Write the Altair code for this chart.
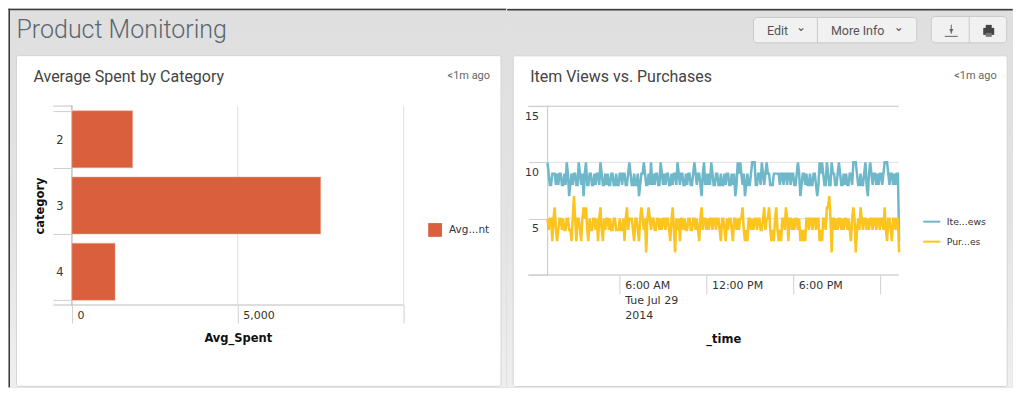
import altair as alt
import pandas as pd

# ---- data ----
categories = ["2", "3", "4"]
avg_spent = [1830, 7500, 1300]
x_ticks_left = [0, 5000, 10000]

y_ticks_right = [0, 5, 10, 15]
time_ticks = ["2014-07-29T06:00:00", "2014-07-29T12:00:00", "2014-07-29T18:00:00", "2014-07-30T00:00:00"]
time_start = "2014-07-29T01:00:00"
time_end = "2014-07-30T01:20:00"

item_views = [
    10, 9, 8, 8, 9, 9, 9, 8, 9, 8, 9, 9, 8, 8, 9, 8, 10, 9, 7, 8,
    9, 8, 9, 9, 8, 8, 10, 9, 8, 9, 7, 9, 10, 8, 8, 9, 9, 8, 8, 9,
    8, 9, 9, 8, 10, 9, 8, 8, 9, 8, 9, 8, 8, 9, 9, 8, 8, 9, 8, 8,
    9, 9, 8, 9, 9, 8, 8, 9, 10, 9, 8, 8, 9, 8, 8, 9, 7, 8, 9, 9,
    10, 9, 8, 8, 9, 8, 10, 8, 9, 8, 9, 9, 8, 8, 10, 9, 8, 9, 8, 9,
    9, 8, 8, 9, 8, 9, 9, 8, 10, 9, 8, 9, 9, 8, 8, 9, 8, 9, 9, 8,
    8, 9, 10, 9, 8, 9, 9, 8, 7, 9, 10, 8, 9, 8, 9, 8, 10, 9, 8, 8,
    9, 9, 8, 8, 9, 8, 8, 9, 8, 9, 9, 8, 8, 9, 8, 9, 7, 8, 10, 9,
    10, 9, 8, 9, 7, 8, 9, 8, 8, 9, 10, 10, 10, 8, 8, 9, 9, 8, 10, 9,
    8, 9, 10, 9, 9, 8, 8, 8, 9, 9, 9, 9, 9, 8, 9, 9, 8, 9, 9, 8,
    9, 9, 8, 9, 9, 8, 8, 9, 10, 9, 7, 8, 9, 9, 8, 9, 8, 8, 9, 8,
    8, 9, 9, 8, 7, 8, 10, 9, 10, 9, 8, 8, 10, 9, 8, 8, 10, 9, 9, 8,
    8, 9, 10, 9, 8, 8, 9, 8, 9, 8, 8, 9, 9, 8, 10, 10, 10, 9, 8, 8,
    9, 8, 8, 9, 10, 8, 7, 9, 10, 9, 8, 9, 9, 8, 9, 8, 9, 9, 8, 9,
    10, 10, 10, 9, 8, 9, 9, 8, 9, 8, 9, 9, 3,
]
purchases = [
    5, 4, 5, 5, 3, 5, 6, 4, 3, 4, 5, 5, 4, 5, 4, 4, 5, 5, 4, 4,
    3, 5, 7, 5, 3, 5, 5, 4, 3, 5, 6, 5, 6, 4, 3, 5, 4, 4, 5, 5,
    4, 5, 3, 5, 6, 4, 3, 5, 4, 5, 5, 4, 5, 4, 4, 5, 5, 4, 4, 4,
    5, 4, 4, 5, 3, 5, 6, 4, 5, 5, 5, 4, 3, 5, 5, 4, 3, 5, 6, 5,
    4, 5, 2, 5, 6, 5, 4, 5, 5, 4, 4, 5, 5, 4, 5, 4, 5, 5, 4, 5,
    5, 4, 3, 5, 6, 4, 2, 5, 4, 5, 3, 5, 5, 4, 5, 4, 4, 5, 5, 4,
    4, 5, 5, 4, 5, 4, 3, 5, 6, 4, 5, 5, 4, 5, 4, 5, 5, 4, 5, 5,
    4, 5, 5, 4, 3, 5, 5, 4, 3, 5, 4, 5, 5, 4, 3, 5, 5, 4, 5, 4,
    5, 5, 6, 4, 3, 4, 3, 5, 5, 4, 5, 4, 5, 5, 4, 5, 5, 4, 4, 5,
    6, 4, 5, 5, 6, 4, 3, 4, 3, 5, 6, 4, 3, 4, 3, 5, 5, 4, 6, 5,
    3, 5, 5, 4, 5, 4, 5, 5, 4, 5, 3, 4, 3, 4, 3, 5, 5, 4, 5, 5,
    4, 5, 5, 4, 5, 5, 3, 4, 3, 5, 5, 4, 6, 6, 7, 5, 2, 5, 5, 4,
    5, 4, 5, 5, 4, 5, 4, 5, 5, 4, 5, 4, 3, 5, 6, 5, 2, 4, 5, 4,
    6, 5, 4, 5, 5, 4, 5, 4, 5, 5, 4, 5, 5, 4, 5, 5, 4, 5, 5, 4,
    6, 4, 3, 5, 5, 4, 3, 5, 5, 4, 5, 5, 2,
]
series_names = ["Ite...ews", "Pur...es"]
bar_legend = ["Avg...nt"]

# ---- styles ----
ORANGE = "#d95f3d"
TEAL = "#6fb8c9"
YELLOW = "#fcc41e"
TICK = "#cfcfcf"
GRID = "#e0e0e0"
AXIS_LINE = "#c4c4c4"
TXT = "#333333"
FONT = "DejaVu Sans"
DARK = "#3c3c3c"
ONE = {"values": [{}]}
grad = alt.Gradient(gradient="linear", x1=0, y1=0, x2=0, y2=1,
                    stops=[alt.GradientStop(offset=0, color="#dfdfdf"),
                           alt.GradientStop(offset=0.55, color="#e3e3e3"),
                           alt.GradientStop(offset=1, color="#efefef")])
PAGE_R, PAGE_B = 1013, 387


def box(ox, oy, x0, y0, x1, y1, **mark):
    return alt.Chart(ONE).mark_rect(**mark).encode(
        x=alt.value(x0 - ox), x2=alt.value(x1 - ox),
        y=alt.value(y0 - oy), y2=alt.value(y1 - oy))


def label(ox, oy, x, y, text, **mark):
    mark.setdefault("baseline", "alphabetic")
    return alt.Chart(ONE).mark_text(text=text, **mark).encode(
        x=alt.value(x - ox), y=alt.value(y - oy))


# ---------------- left panel ----------------
LX, LY = 71.5, 105.5
LW, LH = 332, 199
x_scale = alt.Scale(domain=[0, 10000], nice=False, zero=True)
y_scale = alt.Scale(domain=categories, paddingInner=0.14, paddingOuter=0.07)
bar_df = pd.DataFrame({"category": categories, "Avg_Spent": avg_spent, "s": bar_legend * len(categories)})

x_axis_left = alt.Axis(values=x_ticks_left, title="Avg_Spent", grid=False, domain=False,
                       tickSize=18, tickColor=TICK, labelAlign="left", labelOffset=5,
                       labelBaseline="top", labelPadding=-13, labelFont=FONT, labelFontSize=11,
                       labelColor=TXT,
                       labelExpr="datum.value == 10000 ? '' : format(datum.value, ',')",
                       titleFont=FONT, titleFontSize=11.5, titleFontWeight="bold", titleColor="#111111",
                       titleX=166, titleY=37, titleAnchor="middle", titleBaseline="alphabetic", zindex=1)

left_chrome = [
    box(LX, LY, 8, 8, 506, PAGE_B, color=grad),
    box(LX, LY, 8, 8, 506, 9.5, color=DARK),
    box(LX, LY, 8, 8, 9.5, PAGE_B, color=DARK),
    box(LX, LY, 16, 55, 501, PAGE_B - 1, color="#ffffff", stroke="#d4d4d4", strokeWidth=1, cornerRadius=2),
    label(LX, LY, 16, 37, "Product Monitoring", font="Roboto", fontSize=25, fontWeight=300,
          color="#5c6670", align="left"),
    label(LX, LY, 33, 81, "Average Spent by Category", font="Roboto", fontSize=16,
          color="#444444", align="left"),
    label(LX, LY, 490, 78, "<1m ago", font="Roboto", fontSize=11, color="#666666", align="right"),
    box(LX, LY, 53, 105, 72, 106, color=AXIS_LINE),
    box(LX, LY, 53, 304, 404, 305, color="#bdbdbd"),
    box(LX, LY, 71, 105, 72, 305, color="#a8a8a8"),
]
left_grid = alt.Chart(pd.DataFrame({"v": x_ticks_left[1:]})).mark_rule(color=GRID, strokeWidth=1).encode(
    x=alt.X("v:Q", scale=x_scale, axis=x_axis_left), y=alt.value(0), y2=alt.value(LH))
bars = alt.Chart(bar_df).mark_bar(stroke="#eba892", strokeWidth=0.5).encode(
    x=alt.X("Avg_Spent:Q", scale=x_scale, axis=x_axis_left),
    y=alt.Y("category:N", scale=y_scale, sort=None,
            axis=alt.Axis(title="category", grid=False, domain=False, tickBand="extent", tickSize=19,
                          tickColor=TICK, labelAngle=0, labelPadding=-10, labelFont=FONT, labelFontSize=11.5,
                          labelColor=TXT, titleFont=FONT, titleFontSize=11.5, titleFontWeight="bold",
                          titleColor="#111111", titleX=-26, titleY=99.5, labelOffset=1, zindex=1)),
    color=alt.Color("s:N", scale=alt.Scale(domain=bar_legend, range=[ORANGE]),
                    legend=alt.Legend(title=None, orient="none", legendX=428 - LX, legendY=223 - LY - 0.5,
                                      symbolType="square", symbolSize=190, symbolStrokeWidth=0,
                                      labelFont=FONT, labelFontSize=10.5, labelColor=TXT, labelOffset=7)),
)
left = alt.layer(*left_chrome, left_grid, bars).properties(width=LW, height=LH)

# ---------------- right panel ----------------
RX, RY = 547.3, 105.3
RW, RH = 352, 169
t_scale = alt.Scale(domain=[time_start, time_end], nice=False)
v_scale = alt.Scale(domain=[0, 15], nice=False)
n = len(item_views)
times = pd.date_range(time_start, periods=n, freq="5min").strftime("%Y-%m-%dT%H:%M:%S")
line_df = pd.concat([
    pd.DataFrame({"_time": times, "v": item_views, "s": series_names[0]}),
    pd.DataFrame({"_time": times, "v": purchases, "s": series_names[1]}),
])

y_axis_right = alt.Axis(values=y_ticks_right, title=None, grid=False, domain=False, tickSize=19,
                        tickColor=TICK, labelPadding=-10, labelOffset=10, labelFont=FONT,
                        labelFontSize=11, labelColor=TXT, labelBaseline="middle",
                        labelExpr="datum.value == 0 ? '' : datum.label", zindex=1)

right_chrome = [
    box(RX, RY, 507, 8, PAGE_R, PAGE_B, color=grad),
    box(RX, RY, 507, 8, PAGE_R, 9.5, color=DARK),
    box(RX, RY, 513, 55, 1007.5, PAGE_B - 1, color="#ffffff", stroke="#d4d4d4", strokeWidth=1, cornerRadius=2),
    label(RX, RY, 530, 81, "Item Views vs. Purchases", font="Roboto", fontSize=16,
          color="#444444", align="left"),
    label(RX, RY, 997, 78, "<1m ago", font="Roboto", fontSize=11, color="#666666", align="right"),
    # header buttons
    box(RX, RY, 753.5, 16.5, 917, 42, color="#f1f1f1", stroke="#c9c9c9", cornerRadius=4),
    box(RX, RY, 817, 17, 818, 42, color="#c9c9c9"),
    label(RX, RY, 767, 34, "Edit", font="Roboto", fontSize=12.5, color="#555555", align="left"),
    label(RX, RY, 801, 26, "⌄", font=FONT, fontSize=12, color="#555555", baseline="middle"),
    label(RX, RY, 831, 34, "More Info", font="Roboto", fontSize=12.5, color="#555555", align="left"),
    label(RX, RY, 899, 26, "⌄", font=FONT, fontSize=12, color="#555555", baseline="middle"),
    box(RX, RY, 931.5, 15.5, 1007, 42, color="#f1f1f1", stroke="#c9c9c9", cornerRadius=4),
    box(RX, RY, 969, 16, 970, 42, color="#c9c9c9"),
    # download icon
    box(RX, RY, 945, 35, 958, 36, color="#666666"),
    box(RX, RY, 951, 24, 952, 33, color="#666666"),
    label(RX, RY, 951.5, 30.5, "▾", font=FONT, fontSize=8, color="#666666", baseline="middle"),
    # print icon
    box(RX, RY, 986, 24, 992, 29, color="#444444"),
    box(RX, RY, 983.5, 27, 994.5, 34, color="#444444"),
    box(RX, RY, 986, 32, 992, 36, color="#777777"),
    # axis frame
    box(RX, RY, 528, 105, 899, 106, color=AXIS_LINE),
    box(RX, RY, 528, 274, 899, 275, color="#bdbdbd"),
    box(RX, RY, 547, 105, 548, 275, color=AXIS_LINE),
]
right_grid = alt.Chart(pd.DataFrame({"v": [5, 10]})).mark_rule(color=GRID, strokeWidth=1).encode(
    y=alt.Y("v:Q", scale=v_scale, axis=y_axis_right), x=alt.value(0), x2=alt.value(RW))
lines = alt.Chart(line_df).mark_line(strokeWidth=2.5, interpolate="linear", strokeJoin="miter").encode(
    x=alt.X("_time:T", scale=t_scale,
            axis=alt.Axis(values=time_ticks, title="_time", grid=False, domain=False, tickSize=19,
                          tickColor=TICK, labelAlign="left", labelOffset=5, labelBaseline="top",
                          labelPadding=-14, labelFont=FONT, labelFontSize=11, labelColor=TXT,
                          labelLineHeight=15,
                          labelExpr="hours(datum.value) == 6 ? ['6:00 AM', 'Tue Jul 29', '2014'] : "
                                    "hours(datum.value) == 12 ? '12:00 PM' : "
                                    "hours(datum.value) == 18 ? '6:00 PM' : ''",
                          labelOverlap=False, labelFlush=False,
                          titleFont=FONT, titleFontSize=11.5, titleFontWeight="bold", titleColor="#111111",
                          titleX=176, titleY=68, titleAnchor="middle", titleBaseline="alphabetic", zindex=1)),
    y=alt.Y("v:Q", scale=v_scale, axis=y_axis_right),
    color=alt.Color("s:N", scale=alt.Scale(domain=series_names, range=[TEAL, YELLOW]),
                    legend=alt.Legend(title=None, orient="none", legendX=922 - RX, legendY=211 - RY,
                                      symbolType="stroke", symbolSize=290, symbolStrokeWidth=2,
                                      labelFont=FONT, labelFontSize=9.3, labelColor=TXT, labelOffset=5,
                                      rowPadding=4)),
)
right = alt.layer(*right_chrome, right_grid, lines).properties(width=RW, height=RH)

chart = alt.hconcat(left, right, spacing=0, padding=0, bounds="full", background="#e0e0e0").resolve_scale(
    x="independent", y="independent", color="independent"
).configure_view(stroke=None)

chart.save("out.html", embed_options={"renderer": "svg", "actions": False})
